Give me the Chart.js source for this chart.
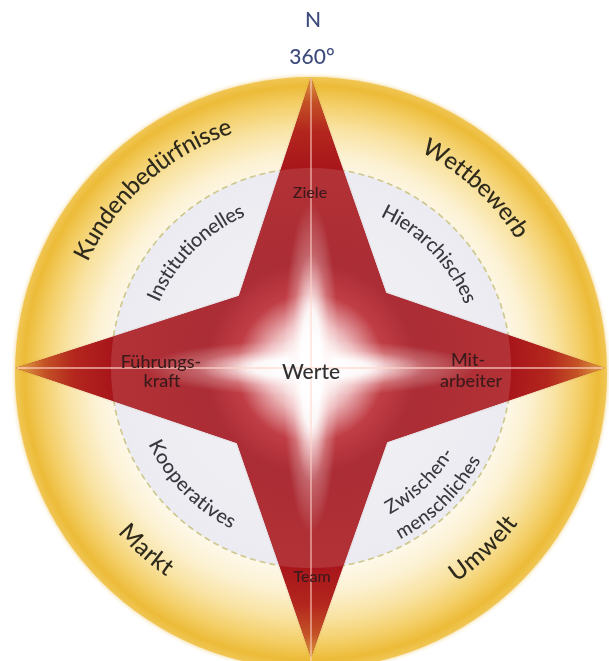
<!DOCTYPE html>
<html><head><meta charset="utf-8">
<script src="https://cdn.jsdelivr.net/npm/chart.js@4.4.0/dist/chart.umd.min.js"></script>
<style>html,body{margin:0;padding:0;background:#fff;}#wrap{width:609px;height:661px;position:relative;}</style>
</head><body><div id="wrap"><canvas id="c"></canvas></div>
<script>
// Star outline (offsets from compass centre, y up)
const starX = [0, 75, 293, 76, 0, -74, -295, -72, 0];
const starY = [290, 75, 0, -74, -289, -75, 0, 72, 290];

// Rings: outer disc and dashed inner circle
const ringRadius = [296, 200];
const ringCenterY = [-5, 0];

// Curved labels (bearing = degrees clockwise from north)
const arcLabels = ['Kundenbedürfnisse', 'Wettbewerb', 'Umwelt', 'Markt', 'Institutionelles', 'Hierarchisches', 'Kooperatives', 'Zwischen-', 'menschliches'];
const arcBearing = [318.5, 42.5, 136.4, 222.2, 315, 46.1, 225.7, 136.3, 135.5];
const arcRadius = [255, 250, 251, 246, 172, 173, 173, 160, 187];

// Straight labels
const textLabels = ['N', '360°', 'Ziele', 'Werte', 'Führungs-', 'kraft', 'Mit-', 'arbeiter', 'Team'];
const textX = [2, 1, -1, 0, -150, -149, 157, 160, 1];
const textY = [348, 311, 175, -4, 6, -13, 8, -13, -209];

// ---- styles ----
const FONT = 'Lato, "Open Sans", sans-serif';
const ringCol = '#2e2a1c', greyCol = '#38383e', redCol = '#3a1a1a';
const arcStyle = [
  {size: 24, color: ringCol}, {size: 24, color: ringCol}, {size: 24, color: ringCol}, {size: 24, color: ringCol},
  {size: 20, color: greyCol}, {size: 20, color: greyCol}, {size: 20, color: greyCol}, {size: 19, color: greyCol}, {size: 19, color: greyCol}
];
const textStyle = [
  {size: 21, color: '#3d4c7c'}, {size: 21, color: '#3d4c7c'}, {size: 16, color: redCol}, {size: 21, color: '#303030'},
  {size: 18, color: redCol}, {size: 18, color: redCol}, {size: 18, color: redCol}, {size: 18, color: redCol}, {size: 16, color: redCol}
];

function arcText(ctx, str, cx, cy, r, bearingDeg, size, color, outward) {
  ctx.save();
  ctx.font = '500 ' + size + 'px ' + FONT;
  ctx.fillStyle = color;
  ctx.textAlign = 'center';
  ctx.textBaseline = 'middle';
  const chars = Array.from(str);
  const widths = chars.map(ch => ctx.measureText(ch).width);
  const total = widths.reduce((a, b) => a + b, 0);
  const th = (bearingDeg - 90) * Math.PI / 180;
  const span = total / r;
  let off = 0;
  chars.forEach((ch, i) => {
    const w = widths[i];
    const a = outward ? th - span / 2 + (off + w / 2) / r : th + span / 2 - (off + w / 2) / r;
    ctx.save();
    ctx.translate(cx + r * Math.cos(a), cy + r * Math.sin(a));
    ctx.rotate(outward ? a + Math.PI / 2 : a - Math.PI / 2);
    ctx.fillText(ch, 0, 0);
    ctx.restore();
    off += w;
  });
  ctx.restore();
}

const compassPlugin = {
  id: 'compass',
  beforeDatasetsDraw(chart) {
    const {ctx, scales: {x, y}} = chart;
    const cx = x.getPixelForValue(0), cy = y.getPixelForValue(0);
    const Ro = x.getPixelForValue(ringRadius[0]) - cx;
    const Ri = x.getPixelForValue(ringRadius[1]) - cx;
    const ocy = y.getPixelForValue(ringCenterY[0]);
    const icy = y.getPixelForValue(ringCenterY[1]);

    // outer golden disc
    ctx.save();
    const g = ctx.createRadialGradient(cx, ocy, 0, cx, ocy, Ro);
    g.addColorStop(0, '#fffdf6');
    g.addColorStop(0.66, '#fdf8e9');
    g.addColorStop(0.74, '#fcf1d2');
    g.addColorStop(0.83, '#f9e3a2');
    g.addColorStop(0.91, '#f4cf68');
    g.addColorStop(0.97, '#ecbb38');
    g.addColorStop(1, '#f0c654');
    ctx.shadowColor = 'rgba(236,186,60,0.7)';
    ctx.shadowBlur = 4;
    ctx.beginPath();
    ctx.arc(cx, ocy, Ro, 0, Math.PI * 2);
    ctx.fillStyle = g;
    ctx.fill();
    ctx.restore();

    // inner grey disc + dashed circle
    ctx.save();
    const gi = ctx.createRadialGradient(cx, icy, 0, cx, icy, Ri);
    gi.addColorStop(0, '#f4f4f7');
    gi.addColorStop(1, '#ebebf1');
    ctx.beginPath();
    ctx.arc(cx, icy, Ri, 0, Math.PI * 2);
    ctx.fillStyle = gi;
    ctx.fill();
    ctx.setLineDash([6, 4]);
    ctx.lineWidth = 1.6;
    ctx.strokeStyle = '#cdc78c';
    ctx.stroke();
    ctx.restore();

    // star, built from the dataset points placed by the scales
    const pts = chart.getDatasetMeta(0).data;
    ctx.save();
    ctx.beginPath();
    pts.forEach((p, i) => { if (i === 0) ctx.moveTo(p.x, p.y); else ctx.lineTo(p.x, p.y); });
    ctx.closePath();
    ctx.save();
    ctx.shadowColor = 'rgba(120,20,20,0.35)';
    ctx.shadowBlur = 2;
    ctx.fillStyle = '#a5121a';
    ctx.fill();
    ctx.restore();
    ctx.clip();
    const gs = ctx.createRadialGradient(cx, cy, 0, cx, cy, Ro);
    gs.addColorStop(0, '#ffffff');
    gs.addColorStop(0.07, '#ffffff');
    gs.addColorStop(0.15, '#eaaeb1');
    gs.addColorStop(0.25, '#b8242d');
    gs.addColorStop(0.36, '#a0101a');
    gs.addColorStop(0.68, '#a8161b');
    gs.addColorStop(0.8, '#b3261d');
    gs.addColorStop(0.9, '#c45226');
    gs.addColorStop(0.97, '#da933e');
    gs.addColorStop(1, '#e6b24e');
    ctx.fillStyle = gs;
    ctx.fillRect(0, 0, chart.width, chart.height);
    // cross-shaped glow along the four arms
    [[1, 0.17], [0.17, 1]].forEach(([sx, sy]) => {
      ctx.save();
      ctx.translate(cx, cy);
      ctx.scale(sx, sy);
      const gg = ctx.createRadialGradient(0, 0, 0, 0, 0, 165);
      gg.addColorStop(0, 'rgba(255,255,255,1)');
      gg.addColorStop(0.36, 'rgba(255,255,255,0.92)');
      gg.addColorStop(0.7, 'rgba(255,236,236,0.28)');
      gg.addColorStop(1, 'rgba(255,255,255,0)');
      ctx.fillStyle = gg;
      ctx.fillRect(-900, -900, 1800, 1800);
      ctx.restore();
    });
    // translucent veil inside dashed circle
    ctx.beginPath();
    ctx.arc(cx, icy, Ri, 0, Math.PI * 2);
    ctx.fillStyle = 'rgba(255,255,255,0.12)';
    ctx.fill();
    ctx.restore();

    // thin cross lines
    ctx.save();
    ctx.strokeStyle = 'rgba(255,214,204,0.8)';
    ctx.lineWidth = 1.3;
    ctx.beginPath();
    ctx.moveTo(cx - Ro + 2, cy); ctx.lineTo(cx + Ro - 4, cy);
    ctx.moveTo(cx, ocy - Ro + 1); ctx.lineTo(cx, chart.height);
    ctx.stroke();
    ctx.restore();
  },
  afterDatasetsDraw(chart) {
    const {ctx, scales: {x, y}} = chart;
    const cx = x.getPixelForValue(0), cy = y.getPixelForValue(0);
    arcLabels.forEach((t, i) => {
      const r = x.getPixelForValue(arcRadius[i]) - cx;
      const outward = Math.cos(arcBearing[i] * Math.PI / 180) > 0;
      arcText(ctx, t, cx, cy, r, arcBearing[i], arcStyle[i].size, arcStyle[i].color, outward);
    });
    ctx.save();
    ctx.textAlign = 'center';
    ctx.textBaseline = 'middle';
    textLabels.forEach((t, i) => {
      ctx.font = '500 ' + textStyle[i].size + 'px ' + FONT;
      ctx.fillStyle = textStyle[i].color;
      ctx.fillText(t, x.getPixelForValue(textX[i]), y.getPixelForValue(textY[i]));
    });
    ctx.restore();
  }
};

new Chart(document.getElementById('c'), {
  type: 'scatter',
  data: {
    datasets: [{
      label: 'Kompass',
      data: starX.map((v, i) => ({x: v, y: starY[i]})),
      showLine: false,
      pointRadius: 0,
      borderWidth: 0
    }]
  },
  options: {
    responsive: true,
    maintainAspectRatio: false,
    animation: false,
    events: [],
    layout: {padding: 0},
    plugins: {legend: {display: false}, tooltip: {enabled: false}},
    scales: {
      x: {type: 'linear', min: -311, max: 298, display: false},
      y: {type: 'linear', min: -293, max: 368, display: false}
    }
  },
  plugins: [compassPlugin]
});
</script>
</body></html>
